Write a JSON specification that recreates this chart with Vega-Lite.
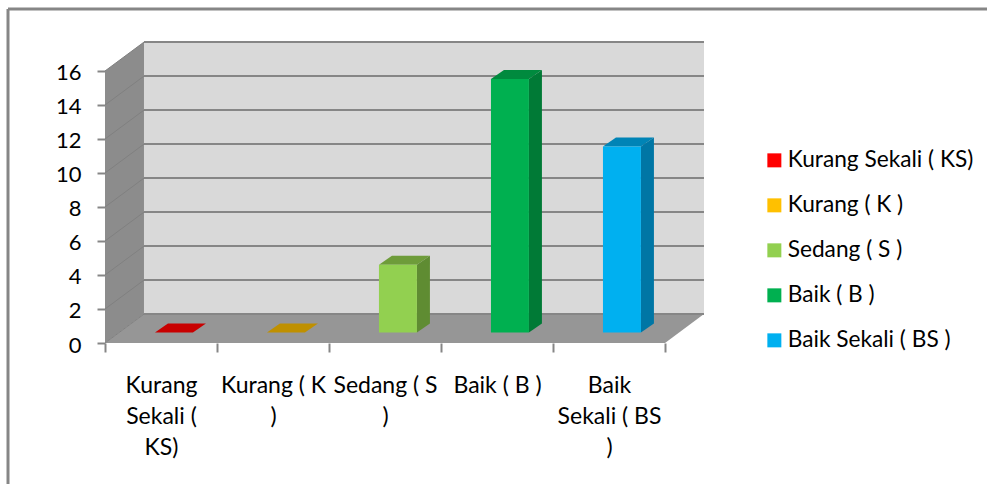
{
"$schema":"https://vega.github.io/schema/vega-lite/v6.json",
"width":600,"height":300,
"autosize":{"type":"none"},
"padding":{"left":105,"top":43,"right":282,"bottom":141},
"background":"#ffffff",
"config":{"view":{"stroke":null},"font":"Lato","text":{"font":"Lato"},"axis":{"labelOverlap":false,"labelSeparation":0},"axisY":{"labelOverlap":false,"tickCount":9}},
"data":{"values":[
{"series":"Kurang Sekali ( KS)","value":0,"i":0},
{"series":"Kurang ( K )","value":0,"i":1},
{"series":"Sedang ( S )","value":4,"i":2},
{"series":"Baik ( B )","value":15,"i":3},
{"series":"Baik Sekali ( BS )","value":11,"i":4}
]},
"resolve":{"scale":{"color":"independent"}},
"layer":[
{"data":{"values":[{}]},"mark":{"type":"rule","color":"#868686","strokeWidth":3,"clip":false},
 "encoding":{
  "x":{"datum":-0.866,"scale":{"domain":[0,5.357]},
   "axis":{"title":null,"values":[0,0.5,1,1.5,2,2.5,3,3.5,4,4.5,5],"domain":false,"grid":false,
    "tickColor":"#868686","tickWidth":2,"tickSize":9,"tickOpacity":{"condition":{"test":"datum.value%1==0","value":1},"value":0},
    "labelFont":"Lato","labelFontSize":23,"labelColor":"#000000","labelPadding":22,"labelLineHeight":31,"labelOverlap":false,"labelFlush":false,"labelBound":false,"labelBaseline":"top","labelAlign":"center",
    "labelExpr":"datum.value==0.5?['Kurang','Sekali (','KS)']:datum.value==1.5?['Kurang ( K ',')']:datum.value==2.5?['Sedang ( S ',')']:datum.value==3.5?'Baik ( B )':datum.value==4.5?['Baik','Sekali ( BS',')']:''"}},
  "y":{"datum":19.65,"scale":{"domain":[0,17.647]},
   "axis":{"title":null,"values":[0,2,4,6,8,10,12,14,16],"domain":false,"grid":false,"tickColor":"#868686","tickWidth":2,"tickSize":8,"labelFont":"Lato","labelFontSize":22,"labelColor":"#000000","labelPadding":16,"labelOffset":2,"labelOverlap":false,"labelBound":false,"labelFlush":false}},
  "y2":{"datum":-8.3}}},
{"data":{"values":[{}]},"mark":{"type":"rule","color":"#868686","strokeWidth":3,"clip":false},
 "encoding":{"x":{"datum":-0.866,"scale":{"domain":[0,5.357]}},"x2":{"datum":7.875},"y":{"datum":19.65,"scale":{"domain":[0,17.647]}}}},
{"data":{"values":[{}]},"mark":{"type":"rect","color":"#d9d9d9"},
 "encoding":{"x":{"datum":0.348,"scale":{"domain":[0,5.357]}},"x2":{"datum":5.348},"y":{"datum":1.7,"scale":{"domain":[0,17.647]}},"y2":{"datum":17.7}}},
{"data":{"values":[{"t":0},{"t":1}]},
 "transform":[{"calculate":"datum.t*0.348","as":"px"},{"calculate":"datum.t*1.7","as":"py"},{"calculate":"16+datum.t*1.7","as":"py2"}],
 "mark":{"type":"area","color":"#8c8c8c"},
 "encoding":{"x":{"field":"px","type":"quantitative","scale":{"domain":[0,5.357]}},"y":{"field":"py","type":"quantitative","scale":{"domain":[0,17.647]}},"y2":{"field":"py2"}}},
{"data":{"values":[{"t":0},{"t":1}]},
 "transform":[{"calculate":"datum.t*0.348","as":"px"},{"calculate":"5+datum.t*0.348","as":"px2"},{"calculate":"datum.t*1.7","as":"py"}],
 "mark":{"type":"area","orient":"horizontal","color":"#969696"},
 "encoding":{
  "y":{"field":"py","type":"quantitative","scale":{"domain":[0,17.647]}},
  "x":{"field":"px","type":"quantitative","scale":{"domain":[0,5.357]}},
  "x2":{"field":"px2"}}},
{"data":{"values":[{"v":0},{"v":2},{"v":4},{"v":6},{"v":8},{"v":10},{"v":12},{"v":14},{"v":16}]},
 "transform":[{"calculate":"datum.v+1.7","as":"yb"}],
 "mark":{"type":"rule","color":"#868686","strokeWidth":2},
 "encoding":{"x":{"datum":0.348,"scale":{"domain":[0,5.357]}},"x2":{"datum":5.348},"y":{"field":"yb","type":"quantitative","scale":{"domain":[0,17.647]}}}},
{"data":{"values":[{"v":0},{"v":2},{"v":4},{"v":6},{"v":8},{"v":10},{"v":12},{"v":14},{"v":16}]},
 "transform":[{"calculate":"datum.v+1.7","as":"yb"}],
 "mark":{"type":"rule","color":"#808080","strokeWidth":1},
 "encoding":{"x":{"datum":0,"scale":{"domain":[0,5.357]}},"x2":{"datum":0.348},
  "y":{"field":"v","type":"quantitative","scale":{"domain":[0,17.647]}},
  "y2":{"field":"yb"}}},
{"transform":[{"calculate":"[0,1]","as":"t"},{"flatten":["t"]},{"calculate":"datum.i+0.446+datum.t*0.116","as":"px"},{"calculate":"datum.i+0.785+datum.t*0.116","as":"px2"},{"calculate":"0.62+datum.value*0.994+datum.t*0.53","as":"py"}],
 "mark":{"type":"area","orient":"horizontal"},
 "encoding":{
  "y":{"field":"py","type":"quantitative","scale":{"domain":[0,17.647]}},
  "x":{"field":"px","type":"quantitative","scale":{"domain":[0,5.357]}},
  "x2":{"field":"px2"},
  "color":{"field":"series","type":"nominal","legend":null,"scale":{"domain":["Kurang Sekali ( KS)","Kurang ( K )","Sedang ( S )","Baik ( B )","Baik Sekali ( BS )"],"range":["#c80000","#bf9000","#6e9c3a","#008a3e","#0084b6"]}}}},
{"transform":[{"filter":"datum.value>0"},{"calculate":"[0,1]","as":"t"},{"flatten":["t"]},{"calculate":"datum.i+0.785+datum.t*0.116","as":"px"},{"calculate":"0.62+datum.t*0.53","as":"py"},{"calculate":"0.62+datum.value*0.994+datum.t*0.53","as":"py2"}],
 "mark":{"type":"area"},
 "encoding":{
  "x":{"field":"px","type":"quantitative","scale":{"domain":[0,5.357]}},
  "y":{"field":"py","type":"quantitative","scale":{"domain":[0,17.647]}},
  "y2":{"field":"py2"},
  "color":{"field":"series","type":"nominal","legend":null,"scale":{"domain":["Sedang ( S )","Baik ( B )","Baik Sekali ( BS )"],"range":["#5f8c32","#007a36","#0076a5"]}}}},
{"transform":[{"calculate":"datum.i+0.446","as":"px"},{"calculate":"datum.i+0.785","as":"px2"},{"calculate":"0.62","as":"py"},{"calculate":"0.62+datum.value*0.994","as":"py2"}],
 "mark":{"type":"rect"},
 "encoding":{
  "x":{"field":"px","type":"quantitative","scale":{"domain":[0,5.357]}},
  "x2":{"field":"px2"},
  "y":{"field":"py","type":"quantitative","scale":{"domain":[0,17.647]}},
  "y2":{"field":"py2"},
  "color":{"field":"series","type":"nominal",
   "scale":{"domain":["Kurang Sekali ( KS)","Kurang ( K )","Sedang ( S )","Baik ( B )","Baik Sekali ( BS )"],"range":["#ff0000","#ffc000","#92d050","#00b050","#00b0f0"]},
   "legend":{"title":null,"orient":"none","legendX":658,"legendY":106,"padding":0,"symbolType":"square","symbolSize":196,"symbolStrokeWidth":0,"labelFont":"Lato","labelFontSize":22.7,"labelColor":"#000000","labelOffset":2,"rowPadding":21,"labelLimit":240}}}}
]
}
